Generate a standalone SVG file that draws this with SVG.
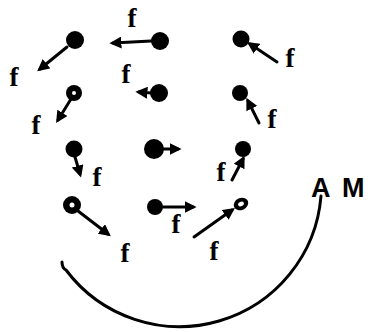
<svg xmlns="http://www.w3.org/2000/svg" width="370" height="332" viewBox="0 0 370 332">
<style>
.ball{fill:#000}
.ring{fill:#000}
.hole{fill:#fff}
.con{stroke:#000;stroke-width:3;fill:none;stroke-linecap:round}
.lbl{font-family:"Liberation Serif","DejaVu Serif",serif;font-weight:bold;font-size:27px;fill:#000;text-anchor:middle}
.am{font-family:"Liberation Sans",Arial,sans-serif;font-weight:bold;font-size:27px;fill:#000}
</style>
<defs>
<marker id="ah" viewBox="0 0 10 10" refX="7" refY="5" markerWidth="4" markerHeight="4" orient="auto" markerUnits="strokeWidth">
<path d="M0,0 L10,5 L0,10 z" fill="#000"/>
</marker>
</defs>
<rect width="370" height="332" fill="#fff"/>
<g id="connectors">
<line class="con" x1="67" y1="47" x2="40" y2="69" marker-end="url(#ah)"/>
<line class="con" x1="151" y1="41" x2="113" y2="43" marker-end="url(#ah)"/>
<line class="con" x1="277" y1="62" x2="250" y2="44" marker-end="url(#ah)"/>
<line class="con" x1="71" y1="99" x2="58" y2="120" marker-end="url(#ah)"/>
<line class="con" x1="151" y1="93" x2="139" y2="92" marker-end="url(#ah)"/>
<line class="con" x1="259" y1="123" x2="248" y2="101" marker-end="url(#ah)"/>
<line class="con" x1="75" y1="157" x2="80" y2="174" marker-end="url(#ah)"/>
<line class="con" x1="162" y1="149" x2="178" y2="149" marker-end="url(#ah)"/>
<line class="con" x1="232" y1="180" x2="243" y2="159" marker-end="url(#ah)"/>
<line class="con" x1="78" y1="211" x2="108" y2="234" marker-end="url(#ah)"/>
<line class="con" x1="163" y1="207" x2="193" y2="207" marker-end="url(#ah)"/>
<line class="con" x1="194" y1="237" x2="232" y2="210" marker-end="url(#ah)"/>
<path class="con" d="M62,262 Q62,268 66,270 A142,142 0 0,0 321,196" stroke-width="2.5"/>
</g>
<g id="ball1"><circle class="ball" cx="75" cy="40" r="9"/></g>
<g id="ball2"><circle class="ball" cx="160" cy="41" r="9"/></g>
<g id="ball3"><circle class="ball" cx="241" cy="39" r="8.5"/></g>
<g id="ball4"><circle class="ring" cx="74" cy="93" r="8"/><circle class="hole" cx="74" cy="93" r="2"/></g>
<g id="ball5"><circle class="ball" cx="159" cy="93" r="9"/></g>
<g id="ball6"><circle class="ball" cx="240" cy="93" r="8"/></g>
<g id="ball7"><circle class="ball" cx="74" cy="149" r="8.5"/></g>
<g id="ball8"><circle class="ball" cx="154" cy="149" r="10"/></g>
<g id="ball9"><circle class="ball" cx="243" cy="149" r="8"/></g>
<g id="ball10"><circle class="ring" cx="72" cy="205" r="9"/><circle class="hole" cx="72" cy="205" r="2.5"/></g>
<g id="ball11"><circle class="ball" cx="155" cy="207" r="8"/></g>
<g id="ball12"><ellipse class="ring" cx="241" cy="204" rx="7.5" ry="6" transform="rotate(-25 241 204)"/><ellipse class="hole" cx="241" cy="204" rx="3" ry="2.2" transform="rotate(-25 241 204)"/></g>
<g id="labels">
<text class="lbl" x="14" y="86">f</text>
<text class="lbl" x="132" y="27">f</text>
<text class="lbl" x="290" y="67">f</text>
<text class="lbl" x="36" y="134">f</text>
<text class="lbl" x="126" y="83">f</text>
<text class="lbl" x="272" y="128">f</text>
<text class="lbl" x="97" y="186">f</text>
<text class="lbl" x="221" y="181">f</text>
<text class="lbl" x="125" y="262">f</text>
<text class="lbl" x="176" y="233">f</text>
<text class="lbl" x="214" y="260">f</text>
<text class="am" x="311" y="197">A</text>
<text class="am" x="342" y="197">M</text>
</g>
</svg>
